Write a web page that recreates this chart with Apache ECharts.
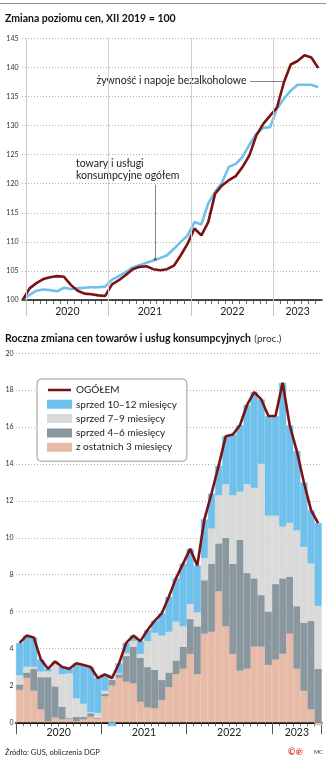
<!DOCTYPE html>
<html>
<head>
<meta charset="utf-8">
<script src="https://cdn.jsdelivr.net/npm/echarts@6/dist/echarts.min.js"></script>
<style>
  html, body { margin: 0; padding: 0; background: #fff; }
  #c { width: 326px; height: 760px; }
</style>
</head>
<body>
<div id="c"></div>
<script>
// ---- Indeks cen, XII 2019 = 100 ----
const CPI_MONTHS = [
  'XII 2019',
  'I 2020','II 2020','III 2020','IV 2020','V 2020','VI 2020','VII 2020','VIII 2020','IX 2020','X 2020','XI 2020','XII 2020',
  'I 2021','II 2021','III 2021','IV 2021','V 2021','VI 2021','VII 2021','VIII 2021','IX 2021','X 2021','XI 2021','XII 2021',
  'I 2022','II 2022','III 2022','IV 2022','V 2022','VI 2022','VII 2022','VIII 2022','IX 2022','X 2022','XI 2022','XII 2022',
  'I 2023','II 2023','III 2023','IV 2023','V 2023','VI 2023','VII 2023'
];
const foodIndex = [
  100.0,
  102.0, 102.9, 103.6, 103.9, 104.1, 104.0, 102.6, 101.6, 101.1, 101.0, 100.8, 100.7,
  102.7, 103.4, 104.3, 105.3, 105.7, 105.8, 105.3, 105.1, 105.3, 105.9, 107.7, 109.7,
  112.3, 111.1, 113.4, 118.3, 119.7, 120.6, 121.3, 122.9, 124.9, 128.3, 130.3, 131.7,
  133.1, 137.4, 140.5, 141.1, 142.1, 141.7, 139.9
];
const totalIndex = [
  100.0,
  100.9, 101.6, 101.8, 101.7, 101.5, 102.1, 101.9, 102.0, 102.1, 102.2, 102.2, 102.3,
  103.5, 104.1, 104.8, 105.6, 106.0, 106.4, 106.8, 107.2, 107.7, 108.8, 110.0, 111.1,
  113.4, 113.0, 116.6, 118.6, 120.2, 122.9, 123.4, 124.6, 126.7, 128.6, 129.6, 129.7,
  132.9, 134.6, 136.0, 137.0, 137.0, 137.0, 136.6
];
const indexTicks = [100, 105, 110, 115, 120, 125, 130, 135, 140, 145];

// ---- Roczna zmiana cen (proc.) i jej rozkład na okresy ----
const YOY_MONTHS = [
  'I 2020','II 2020','III 2020','IV 2020','V 2020','VI 2020','VII 2020','VIII 2020','IX 2020','X 2020','XI 2020','XII 2020',
  'I 2021','II 2021','III 2021','IV 2021','V 2021','VI 2021','VII 2021','VIII 2021','IX 2021','X 2021','XI 2021','XII 2021',
  'I 2022','II 2022','III 2022','IV 2022','V 2022','VI 2022','VII 2022','VIII 2022','IX 2022','X 2022','XI 2022','XII 2022',
  'I 2023','II 2023','III 2023','IV 2023','V 2023','VI 2023','VII 2023'
];
const yoyTotal = [
  4.3, 4.7, 4.6, 3.4, 2.9, 3.3, 3.0, 2.9, 3.2, 3.1, 3.0, 2.4,
  2.6, 2.4, 3.2, 4.3, 4.7, 4.4, 5.0, 5.5, 5.9, 6.8, 7.8, 8.6,
  9.4, 8.5, 11.0, 12.4, 13.9, 15.5, 15.6, 16.1, 17.2, 17.9, 17.5, 16.6,
  16.6, 18.4, 16.1, 14.7, 13.0, 11.5, 10.8
];
const part10_12 = [
  1.75, 1.7, 1.6, 0.65, 0.15, 0.15, 0.4, 0.25, 1.9, 2.1, 2.45, 1.9,
  0.9, -0.2, 0.55, 0.55, 0.3, 0.7, 0.6, 0.65, 1.2, 1.9, 2.35, 3.4,
  3.0, 2.55, 2.1, 1.9, 1.6, 2.6, 3.3, 3.6, 4.3, 5.2, 3.5, 5.4,
  5.4, 7.8, 5.3, 4.3, 3.5, 2.9, 4.5
];
const part7_9 = [
  0.5, 0.3, 0.1, 0.3, 0.3, 1.2, 1.75, 2.4, 1.0, 0.7, 0.05, 0.25,
  0.15, 0.3, 0.05, 0.15, 0.3, 0.2, 1.4, 2.0, 2.4, 2.2, 2.1, 1.1,
  0.8, 0.75, 1.2, 1.9, 2.6, 2.9, 3.7, 2.6, 4.8, 4.9, 7.1, 5.2,
  3.7, 2.8, 2.9, 4.1, 4.1, 3.1, 3.4
];
const part4_6 = [
  0.3, 0.3, 1.2, 1.75, 2.4, 1.7, 0.7, 0.05, 0.25, 0.15, 0.2, 0.05,
  0.15, 0.3, 0.2, 1.4, 2.0, 2.4, 2.2, 2.1, 1.1, 0.8, 0.75, 1.2,
  1.9, 2.6, 2.9, 3.7, 2.6, 4.8, 4.9, 7.1, 5.2, 3.7, 2.8, 2.9,
  4.1, 4.1, 3.1, 3.4, 3.7, 4.8, 2.9
];
const part0_3 = [
  1.75, 2.4, 1.7, 0.7, 0.05, 0.25, 0.15, 0.2, 0.05, 0.15, 0.3, 0.2,
  1.4, 2.0, 2.4, 2.2, 2.1, 1.1, 0.8, 0.75, 1.2, 1.9, 2.6, 2.9,
  3.7, 2.6, 4.8, 4.9, 7.1, 5.2, 3.7, 2.8, 2.9, 4.1, 4.1, 3.1,
  3.4, 3.7, 4.8, 2.9, 1.7, 0.7, -0.15
];
const yoyTicks = [0, 2, 4, 6, 8, 10, 12, 14, 16, 18, 20];
const yearLabels = ['2020', '2021', '2022', '2023'];

// ---- styling ----
const FONT = 'Lato, "Open Sans", sans-serif';
const RED = '#7b1214';
const BLUE = '#6fc0ea';
const LIGHT = '#dadada';
const DARK = '#8b979f';
const PINK = '#e7bba7';
const GRID_DOT = { color: '#9a9a9a', width: 0.8, type: [1, 2] };
// thin bar used as the legend sample of the total line (transparent corners keep the box 23x7)
const LINE_ICON = 'path://M0,0L0.01,0L0.01,0.01Z M0,2.2L23,2.2L23,4.8L0,4.8Z M22.99,7L23,7L23,6.99Z';

// axis helpers derived from month labels
function yearStarts(months) {
  const out = [];
  months.forEach((m, i) => { if (m.startsWith('I ')) out.push(i - 0.5); });
  return out;
}
function yearCenters(months) {
  return yearLabels.map(y => {
    const idx = [];
    months.forEach((m, i) => { if (m.endsWith(' ' + y)) idx.push(i); });
    return (idx[0] + idx[idx.length - 1]) / 2;
  });
}
function yearFormatter(centers) {
  return function (v) {
    let best = 0;
    centers.forEach((c, i) => { if (Math.abs(c - v) < Math.abs(centers[best] - v)) best = i; });
    return yearLabels[best];
  };
}

const topMonthBounds = CPI_MONTHS.slice(0, -1).map((_, k) => k + 0.5);
const topYearStarts = yearStarts(CPI_MONTHS);
const topYearCenters = yearCenters(CPI_MONTHS);
const botYearCenters = yearCenters(YOY_MONTHS);

const pairs = arr => arr.map((v, k) => [k, v]);

const chart = echarts.init(document.getElementById('c'), null, { renderer: 'canvas', width: 326, height: 760 });

const option = {
  animation: false,
  backgroundColor: '#fff',
  textStyle: { fontFamily: FONT },
  grid: [
    { left: 22, right: 4, top: 38.3, height: 261.7 },
    { left: 16, right: 4.3, top: 353.3, height: 369 }
  ],
  xAxis: [
    {
      gridIndex: 0, type: 'value', min: -0.1, max: 43.55, position: 'bottom',
      axisLine: { show: true, lineStyle: { color: '#111', width: 1.5 } },
      axisTick: { show: true, customValues: topMonthBounds, length: 4, lineStyle: { color: '#444', width: 0.8 } },
      axisLabel: { show: true, customValues: topYearCenters, formatter: yearFormatter(topYearCenters),
        fontSize: 10.5, color: '#222', margin: 6, fontFamily: FONT },
      splitLine: { show: false }
    },
    {
      gridIndex: 0, type: 'value', min: -0.1, max: 43.55, position: 'bottom', offset: 0,
      axisLine: { show: false, onZero: false },
      axisTick: { show: true, customValues: topYearStarts, length: 16, lineStyle: { color: '#c4c4c4', width: 1 } },
      axisLabel: { show: false },
      splitLine: { show: false }
    },
    {
      gridIndex: 1, type: 'category', data: YOY_MONTHS, boundaryGap: true, position: 'bottom',
      axisLine: { show: true, onZero: false, lineStyle: { color: '#111', width: 2 } },
      axisTick: { show: true, interval: 0, length: 4, lineStyle: { color: '#444', width: 0.8 } },
      axisLabel: { show: false },
      splitLine: { show: false }
    },
    {
      gridIndex: 1, type: 'category', data: YOY_MONTHS, boundaryGap: true, position: 'bottom', offset: 0,
      axisLine: { show: false, onZero: false },
      axisTick: { show: true, length: 12, lineStyle: { color: '#555', width: 1 },
        interval: (i) => YOY_MONTHS[i].startsWith('I ') },
      axisLabel: { show: false },
      splitLine: { show: false }
    },
    {
      gridIndex: 1, type: 'value', min: -0.5, max: YOY_MONTHS.length - 0.5, position: 'bottom', offset: 0,
      axisLine: { show: false, onZero: false }, axisTick: { show: false },
      axisLabel: { show: true, customValues: botYearCenters, formatter: yearFormatter(botYearCenters),
        fontSize: 10.5, color: '#222', margin: 5, fontFamily: FONT },
      splitLine: { show: false }
    }
  ],
  yAxis: [
    {
      gridIndex: 0, type: 'value',
      min: indexTicks[0], max: indexTicks[indexTicks.length - 1], interval: indexTicks[1] - indexTicks[0],
      axisLine: { show: false }, axisTick: { show: false },
      axisLabel: { fontSize: 7, color: '#333', margin: 3.5, fontFamily: FONT },
      splitLine: { show: true, lineStyle: GRID_DOT }
    },
    {
      gridIndex: 1, type: 'value',
      min: yoyTicks[0], max: yoyTicks[yoyTicks.length - 1], interval: yoyTicks[1] - yoyTicks[0],
      axisLine: { show: false }, axisTick: { show: false },
      axisLabel: { fontSize: 7, color: '#333', margin: 2.5, fontFamily: FONT },
      splitLine: { show: true, lineStyle: GRID_DOT }
    }
  ],
  legend: {
    data: [
      { name: 'OGÓŁEM', icon: LINE_ICON },
      { name: 'sprzed 10–12 miesięcy', icon: 'rect' },
      { name: 'sprzed 7–9 miesięcy', icon: 'rect' },
      { name: 'sprzed 4–6 miesięcy', icon: 'rect' },
      { name: 'z ostatnich 3 miesięcy', icon: 'rect' }
    ],
    orient: 'vertical', left: 37, top: 379,
    padding: [6, 10, 9, 10],
    itemWidth: 23, itemHeight: 7, itemGap: 4.3,
    backgroundColor: '#fff', borderColor: '#9a9a9a', borderWidth: 1, borderRadius: 4,
    textStyle: { fontSize: 10, color: '#222', fontFamily: FONT },
    selectedMode: false, z: 10
  },
  series: [
    // year separators of the index panel
    {
      type: 'line', xAxisIndex: 0, yAxisIndex: 0, data: [], silent: true, z: 1,
      markLine: {
        silent: true, symbol: 'none', label: { show: false }, animation: false,
        lineStyle: { color: '#cfcfcf', width: 1, type: 'solid' },
        data: topYearStarts.map(x => ({ xAxis: x }))
      }
    },
    {
      name: 'towary i usługi konsumpcyjne ogółem', type: 'line', xAxisIndex: 0, yAxisIndex: 0,
      data: pairs(totalIndex), symbol: 'none', z: 3,
      lineStyle: { color: BLUE, width: 2.6 }, itemStyle: { color: BLUE },
      markLine: {
        silent: true, animation: false, label: { show: false },
        lineStyle: { color: '#666', width: 0.8, type: 'solid' },
        data: [[
          { coord: [19.29, 107.0], symbol: 'circle', symbolSize: 3 },
          { coord: [19.29, 119.8], symbol: 'none' }
        ]]
      }
    },
    {
      name: 'żywność i napoje bezalkoholowe', type: 'line', xAxisIndex: 0, yAxisIndex: 0,
      data: pairs(foodIndex), symbol: 'none', z: 4,
      lineStyle: { color: RED, width: 2.6 }, itemStyle: { color: RED },
      markLine: {
        silent: true, animation: false, symbol: 'none', label: { show: false },
        lineStyle: { color: '#666', width: 0.8, type: 'solid' },
        data: [[ { coord: [33.1, 137.7] }, { coord: [37.95, 137.7] } ]]
      }
    },
    {
      name: 'z ostatnich 3 miesięcy', type: 'bar', xAxisIndex: 2, yAxisIndex: 1, stack: 'yoy',
      data: part0_3, barCategoryGap: '0%', clip: false,
      itemStyle: { color: PINK, borderColor: PINK, borderWidth: 0.4 }
    },
    {
      name: 'sprzed 4–6 miesięcy', type: 'bar', xAxisIndex: 2, yAxisIndex: 1, stack: 'yoy',
      data: part4_6, barCategoryGap: '0%', clip: false,
      itemStyle: { color: DARK, borderColor: DARK, borderWidth: 0.4 }
    },
    {
      name: 'sprzed 7–9 miesięcy', type: 'bar', xAxisIndex: 2, yAxisIndex: 1, stack: 'yoy',
      data: part7_9, barCategoryGap: '0%', clip: false,
      itemStyle: { color: LIGHT, borderColor: LIGHT, borderWidth: 0.4 }
    },
    {
      name: 'sprzed 10–12 miesięcy', type: 'bar', xAxisIndex: 2, yAxisIndex: 1, stack: 'yoy',
      data: part10_12, barCategoryGap: '0%', clip: false,
      itemStyle: { color: BLUE, borderColor: BLUE, borderWidth: 0.4 }
    },
    {
      name: 'OGÓŁEM', type: 'line', xAxisIndex: 2, yAxisIndex: 1,
      data: yoyTotal, symbol: 'none', z: 5,
      lineStyle: { color: RED, width: 2.6 }, itemStyle: { color: RED }
    }
  ],
  graphic: [
    { type: 'line', shape: { x1: 0, y1: 3.5, x2: 326, y2: 3.5 }, style: { stroke: '#8f8f8f', lineWidth: 1 }, silent: true },
    { type: 'text', left: 5, top: 13, silent: true,
      style: { text: 'Zmiana poziomu cen, XII 2019 = 100', font: 'bold 10.5px ' + FONT, fill: '#111' } },
    { type: 'text', x: 246.5, y: 80.7, silent: true,
      style: { text: 'żywność i napoje bezalkoholowe', font: '10.5px ' + FONT, fill: '#222',
        align: 'right', verticalAlign: 'middle' } },
    { type: 'text', x: 76, y: 157, silent: true,
      style: { text: 'towary i usługi\nkonsumpcyjne ogółem', font: '10.5px ' + FONT, fill: '#222',
        lineHeight: 12.7, align: 'left', verticalAlign: 'top' } },
    { type: 'text', x: 5, y: 338.3, silent: true,
      style: {
        text: '{b|Roczna zmiana cen towarów i usług konsumpcyjnych} {r|(proc.)}',
        verticalAlign: 'middle',
        rich: {
          b: { font: 'bold 10.5px ' + FONT, fill: '#111' },
          r: { font: '10px ' + FONT, fill: '#333' }
        }
      } },
    { type: 'text', x: 5, y: 752.5, silent: true,
      style: { text: 'Źródło: GUS, obliczenia DGP', font: '7.5px ' + FONT, fill: '#222', verticalAlign: 'middle' } },
    { type: 'text', x: 288, y: 752, silent: true,
      style: { text: '©℗', font: 'bold 9px ' + FONT, fill: '#d6352d', verticalAlign: 'middle' } },
    { type: 'text', x: 314, y: 752.5, silent: true,
      style: { text: 'MC', font: '5.5px ' + FONT, fill: '#333', verticalAlign: 'middle' } }
  ]
};

chart.setOption(option);
</script>
</body>
</html>
